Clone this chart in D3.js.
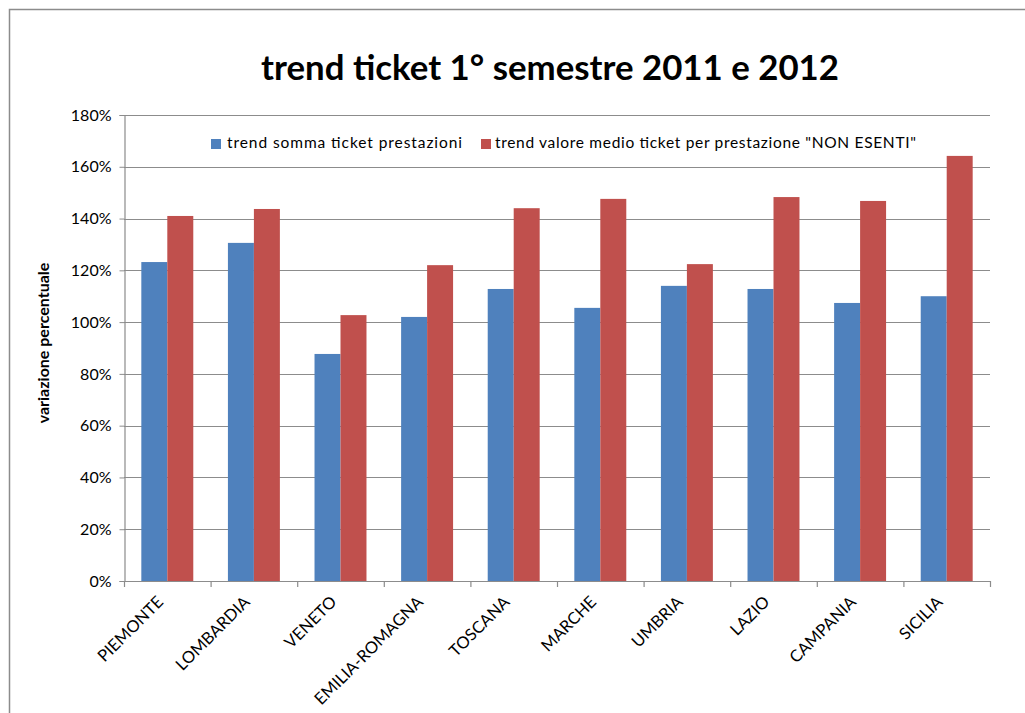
<!DOCTYPE html>
<html><head><meta charset="utf-8">
<script src="https://cdn.jsdelivr.net/npm/d3@7"></script>
<style>body{margin:0;background:#fff}svg{display:block}text{font-family:Lato,"Open Sans",sans-serif}</style>
</head><body><svg id="c" width="1025" height="713"></svg>
<script>
const categories = ["PIEMONTE","LOMBARDIA","VENETO","EMILIA-ROMAGNA","TOSCANA","MARCHE","UMBRIA","LAZIO","CAMPANIA","SICILIA"];
const seriesNames = ["trend somma ticket prestazioni","trend valore medio ticket per prestazione \"NON ESENTI\""];
const sommaTicket = [1.232, 1.306, 0.877, 1.020, 1.128, 1.055, 1.140, 1.128, 1.074, 1.100];
const valoreMedio = [1.410, 1.437, 1.027, 1.220, 1.440, 1.476, 1.224, 1.483, 1.468, 1.642];
const yTicks = [0,0.2,0.4,0.6,0.8,1.0,1.2,1.4,1.6,1.8];
const colors = ["#4F81BD","#C0504D"];

const svg = d3.select("#c");
const L=124,R=990,T=115,B=581;
svg.append("path").attr("d","M9.5,713V9.5H1025").attr("fill","none").attr("stroke","#8c8c8c").attr("stroke-width",1.5);

const x = d3.scaleBand().domain(categories).range([L,R]).paddingInner(0.4).paddingOuter(0.2);
const xs = d3.scaleBand().domain([0,1]).range([0,x.bandwidth()]);
const y = d3.scaleLinear().domain([0,1.8]).range([B,T]);

// gridlines
svg.append("g").selectAll("line").data(yTicks.slice(1)).join("line")
 .attr("x1",L).attr("x2",R).attr("y1",d=>Math.round(y(d))+0.5).attr("y2",d=>Math.round(y(d))+0.5)
 .attr("stroke","#8c8c8c").attr("stroke-width",1.2);

const series=[sommaTicket,valoreMedio];
series.forEach((s,i)=>{
 svg.append("g").selectAll("rect").data(s).join("rect")
  .attr("x",(d,j)=>x(categories[j])+xs(i)).attr("width",xs.bandwidth())
  .attr("y",d=>y(d)).attr("height",d=>B-y(d)).attr("fill",colors[i]);
});

// y axis
const ya = svg.append("g").attr("transform",`translate(${L+0.5},0)`)
 .call(d3.axisLeft(y).tickValues(yTicks).tickFormat(d3.format(".0%")).tickSize(5).tickPadding(8));
ya.select(".domain").attr("stroke","#8c8c8c").attr("stroke-width",1.2);
ya.selectAll(".tick line").attr("stroke","#8c8c8c");
ya.selectAll("text").attr("font-size",16).attr("fill","#000").style("font-family","Lato");

// x axis
svg.append("line").attr("x1",L).attr("x2",R).attr("y1",B+0.5).attr("y2",B+0.5).attr("stroke","#8c8c8c").attr("stroke-width",1.2);
const step = x.step();
const bounds = d3.range(categories.length+1).map(i=>L+i*step);
svg.append("g").selectAll("line").data(bounds).join("line")
 .attr("x1",d=>d+0.5).attr("x2",d=>d+0.5).attr("y1",B).attr("y2",B+6).attr("stroke","#8c8c8c").attr("stroke-width",1.2);
svg.append("g").selectAll("text").data(categories).join("text")
 .attr("transform",d=>`translate(${x(d)+x.bandwidth()/2-3},${B+22}) rotate(-45)`)
 .attr("text-anchor","end").attr("font-size",16.5).attr("fill","#000").text(d=>d);

// title
svg.append("text").attr("x",550).attr("y",80).attr("text-anchor","middle").attr("font-size",34.8).attr("font-weight","bold").text("trend ticket 1° semestre 2011 e 2012");

// y label
svg.append("text").attr("transform","translate(49,343) rotate(-90)").attr("text-anchor","middle").attr("font-size",16).attr("font-weight","bold").text("variazione percentuale");

// legend
const leg=[{x:211,tx:227,w:235},{x:481,tx:495,w:421}];
seriesNames.forEach((n,i)=>{
 svg.append("rect").attr("x",leg[i].x).attr("y",139).attr("width",10).attr("height",10).attr("fill",colors[i]);
 svg.append("text").attr("x",leg[i].tx).attr("y",148).attr("font-size",15.5).attr("fill","#000")
  .attr("textLength",leg[i].w).attr("lengthAdjust","spacing").text(n);
});
</script></body></html>
